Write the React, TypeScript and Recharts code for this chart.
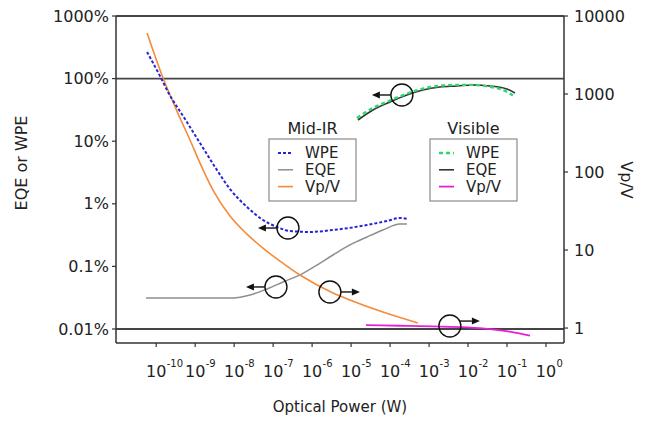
import { LineChart, Line, XAxis, YAxis, ReferenceLine, ReferenceDot } from "recharts";

// axis ticks
const powerTicks = [1e-10, 1e-9, 1e-8, 1e-7, 1e-6, 1e-5, 1e-4, 1e-3, 1e-2, 1e-1, 1];
const eqeTicks = [1e-4, 1e-3, 1e-2, 1e-1, 1, 10];
const eqeTickLabels = ["0.01%", "0.1%", "1%", "10%", "100%", "1000%"];
const vpTicks = [1, 10, 100, 1000, 10000];

// Mid-IR
const midIrWpePower = [5.82e-11, 1.33e-10, 2.01e-10, 5.48e-10, 1.33e-9, 3.22e-9, 7.82e-9, 2.13e-8, 5.48e-8, 1.25e-7, 2.7e-7, 8.79e-7, 3.42e-6, 2.55e-5, 8.3e-5, 1.79e-4, 2.86e-4];
const midIrWpe = [2.66, 1.02, 0.611, 0.226, 0.0935, 0.0387, 0.0172, 0.00889, 0.00551, 0.00426, 0.00367, 0.00355, 0.00381, 0.00458, 0.00531, 0.00593, 0.00571];

const midIrEqePower = [5.5e-11, 7.36e-10, 9.33e-9, 2.55e-8, 6.95e-8, 1.79e-7, 4.88e-7, 1.33e-6, 3.42e-6, 9.33e-6, 2.55e-5, 6.55e-5, 1.79e-4, 2.7e-4];
const midIrEqe = [3.13e-4, 3.13e-4, 3.13e-4, 3.49e-4, 4.36e-4, 5.64e-4, 7.3e-4, 1.05e-3, 1.52e-3, 2.2e-3, 2.95e-3, 3.81e-3, 4.75e-3, 4.75e-3];

const midIrVpPower = [5.82e-11, 1.5e-10, 4.08e-10, 7.36e-10, 1.33e-9, 2.86e-9, 7.82e-9, 2.13e-8, 5.48e-8, 1.5e-7, 4.88e-7, 3.04e-6, 9.33e-6, 6.55e-5, 5.16e-4];
const midIrVp = [6050, 1600, 492, 257, 130, 58.7, 27.3, 16.0, 10.6, 7.2, 4.78, 2.9, 2.29, 1.6, 1.16];

// Visible
const visWpePower = [1.41e-5, 3.63e-5, 9.91e-5, 2.7e-4, 6.95e-4, 1.9e-3, 5.18e-3, 1.33e-2, 3.63e-2, 9.91e-2, 0.141];
const visWpe = [0.235, 0.339, 0.447, 0.575, 0.692, 0.767, 0.794, 0.794, 0.741, 0.617, 0.537];

const visEqePower = [1.5e-5, 3.63e-5, 9.91e-5, 2.7e-4, 6.95e-4, 1.9e-3, 5.18e-3, 1.33e-2, 3.63e-2, 9.91e-2, 0.159];
const visEqe = [0.218, 0.315, 0.423, 0.547, 0.658, 0.735, 0.762, 0.791, 0.762, 0.682, 0.589];

const visVpPower = [2.4e-5, 1.79e-4, 1.26e-3, 9.33e-3, 3.63e-2, 0.117, 0.389];
const visVp = [1.09, 1.07, 1.05, 1.02, 0.97, 0.9, 0.8];

// circled markers with arrows pointing to the axis that applies
const markers = [
  { x: 2.01e-4, y: 0.547, axis: "left", dir: -1, dy: 0 },
  { x: 2.4e-7, y: 0.0041, axis: "left", dir: -1, dy: 0 },
  { x: 1.18e-7, y: 4.69e-4, axis: "left", dir: -1, dy: 0 },
  { x: 2.86e-6, y: 2.9, axis: "right", dir: 1, dy: 0 },
  { x: 3.42e-3, y: 1.06, axis: "right", dir: 1, dy: -5 },
];

const zip = (xs: number[], ys: number[]) => xs.map((x, i) => ({ x, y: ys[i] }));

const FONT = "DejaVu Sans, Verdana, sans-serif";
const INK = "#222";

const colors = {
  midWpe: "#2424d6",
  midEqe: "#8e8e8e",
  midVp: "#f58b3a",
  visWpe: "#2fd86e",
  visEqe: "#333333",
  visVp: "#e81fd8",
};

const PowerTick = (props: any) => {
  const { x, y, payload } = props;
  const exp = Math.round(Math.log10(payload.value));
  return (
    <g>
      <text x={x} y={y + 30} textAnchor="middle" fontSize={16} fill={INK} fontFamily={FONT}>
        10
      </text>
      <text x={x + 10.5} y={y + 20} textAnchor="start" fontSize={10} fill={INK} fontFamily={FONT}>
        {exp}
      </text>
    </g>
  );
};

const markerShape = (dir: number, dy: number) => (props: any) => {
  const { cx, cy } = props;
  const r = 11;
  const ay = cy + dy;
  const x0 = cx + dir * Math.sqrt(r * r - dy * dy);
  const tip = cx + dir * 30;
  const back = tip - dir * 8;
  return (
    <g>
      <circle cx={cx} cy={cy} r={r} fill="none" stroke="#111" strokeWidth={1.4} />
      <line x1={x0} y1={ay} x2={back} y2={ay} stroke="#111" strokeWidth={1.4} />
      <polygon points={`${tip},${ay} ${back},${ay - 3.5} ${back},${ay + 3.5}`} fill="#111" />
    </g>
  );
};

const LegendBox = ({ x, title, items }: { x: number; title: string; items: { label: string; color: string; dash?: string; w: number }[] }) => (
  <g fontFamily={FONT} fill={INK}>
    <text x={x + 43.5} y={134} textAnchor="middle" fontSize={16}>
      {title}
    </text>
    <rect x={x} y={139} width={87} height={62} fill="#fff" stroke="#8a8a8a" strokeWidth={1.2} />
    {items.map((it, i) => (
      <g key={it.label}>
        <line x1={x + 9} x2={x + 24} y1={153 + i * 16.8} y2={153 + i * 16.8} stroke={it.color} strokeWidth={it.w} strokeDasharray={it.dash} />
        <text x={x + 36} y={153 + i * 16.8 + 5.3} fontSize={15}>
          {it.label}
        </text>
      </g>
    ))}
  </g>
);

export default function App() {
  return (
    <div style={{ position: "absolute", left: 0, top: 0, width: 648, height: 423, background: "#fff" }}>
      <LineChart width={648} height={423} margin={{ top: 16, right: 0, bottom: 0, left: 0 }}>
        <XAxis
          xAxisId="p"
          dataKey="x"
          type="number"
          scale="log"
          domain={[9.3e-12, 2.9]}
          allowDataOverflow
          ticks={powerTicks}
          interval={0}
          height={80}
          tickSize={4}
          tickMargin={0}
          tick={<PowerTick />}
          axisLine={{ stroke: "#333", strokeWidth: 1.5 }}
          tickLine={{ stroke: "#333", strokeWidth: 1.2 }}
        />
        <YAxis
          yAxisId="left"
          type="number"
          scale="log"
          domain={[5.97e-5, 10]}
          allowDataOverflow
          ticks={eqeTicks}
          interval={0}
          width={116}
          tickSize={4}
          tickMargin={3}
          tickFormatter={(v: number) => eqeTickLabels[eqeTicks.indexOf(v)] ?? ""}
          tick={{ fontSize: 16, fill: INK, fontFamily: FONT }}
          axisLine={{ stroke: "#333", strokeWidth: 1.5 }}
          tickLine={{ stroke: "#333", strokeWidth: 1.2 }}
        />
        <YAxis
          yAxisId="right"
          orientation="right"
          type="number"
          scale="log"
          domain={[0.643, 10000]}
          allowDataOverflow
          ticks={vpTicks}
          interval={0}
          width={84}
          tickSize={4}
          tickMargin={6}
          tick={{ fontSize: 16, fill: INK, fontFamily: FONT, textAnchor: "start" }}
          axisLine={{ stroke: "#333", strokeWidth: 1.5 }}
          tickLine={{ stroke: "#333", strokeWidth: 1.2 }}
        />

        <ReferenceLine xAxisId="p" yAxisId="left" y={10} stroke="#444" strokeWidth={1.8} />
        <ReferenceLine xAxisId="p" yAxisId="left" y={1} stroke="#444" strokeWidth={1.8} />
        <ReferenceLine xAxisId="p" yAxisId="left" y={1e-4} stroke="#444" strokeWidth={1.8} />

        <Line xAxisId="p" yAxisId="left" data={zip(midIrEqePower, midIrEqe)} dataKey="y" type="monotone" stroke={colors.midEqe} strokeWidth={1.5} dot={false} isAnimationActive={false} />
        <Line xAxisId="p" yAxisId="right" data={zip(midIrVpPower, midIrVp)} dataKey="y" type="monotone" stroke={colors.midVp} strokeWidth={1.6} dot={false} isAnimationActive={false} />
        <Line xAxisId="p" yAxisId="left" data={zip(midIrWpePower, midIrWpe)} dataKey="y" type="monotone" stroke={colors.midWpe} strokeWidth={2} strokeDasharray="3 2" dot={false} isAnimationActive={false} />
        <Line xAxisId="p" yAxisId="left" data={zip(visEqePower, visEqe)} dataKey="y" type="monotone" stroke={colors.visEqe} strokeWidth={1.6} dot={false} isAnimationActive={false} />
        <Line xAxisId="p" yAxisId="left" data={zip(visWpePower, visWpe)} dataKey="y" type="monotone" stroke={colors.visWpe} strokeWidth={2.4} strokeDasharray="4 3" dot={false} isAnimationActive={false} />
        <Line xAxisId="p" yAxisId="right" data={zip(visVpPower, visVp)} dataKey="y" type="monotone" stroke={colors.visVp} strokeWidth={1.8} dot={false} isAnimationActive={false} />

        {markers.map((m, i) => (
          <ReferenceDot key={i} xAxisId="p" yAxisId={m.axis} x={m.x} y={m.y} r={11} shape={markerShape(m.dir, m.dy)} />
        ))}
      </LineChart>

      <svg width={648} height={423} style={{ position: "absolute", left: 0, top: 0, pointerEvents: "none" }}>
        <LegendBox
          x={269}
          title="Mid-IR"
          items={[
            { label: "WPE", color: colors.midWpe, dash: "3 2", w: 2 },
            { label: "EQE", color: colors.midEqe, w: 1.5 },
            { label: "Vp/V", color: colors.midVp, w: 1.6 },
          ]}
        />
        <LegendBox
          x={430}
          title="Visible"
          items={[
            { label: "WPE", color: colors.visWpe, dash: "4 3", w: 2.4 },
            { label: "EQE", color: colors.visEqe, w: 1.6 },
            { label: "Vp/V", color: colors.visVp, w: 1.8 },
          ]}
        />
        <text x={21} y={163} transform="rotate(-90 21 163)" textAnchor="middle" dominantBaseline="central" fontSize={16} fill={INK} fontFamily={FONT}>
          EQE or WPE
        </text>
        <text x={626} y={180} transform="rotate(90 626 180)" textAnchor="middle" dominantBaseline="central" fontSize={16} fill={INK} fontFamily={FONT}>
          Vp/V
        </text>
        <text x={340} y={412} textAnchor="middle" fontSize={15} fill={INK} fontFamily={FONT}>
          Optical Power (W)
        </text>
      </svg>
    </div>
  );
}
